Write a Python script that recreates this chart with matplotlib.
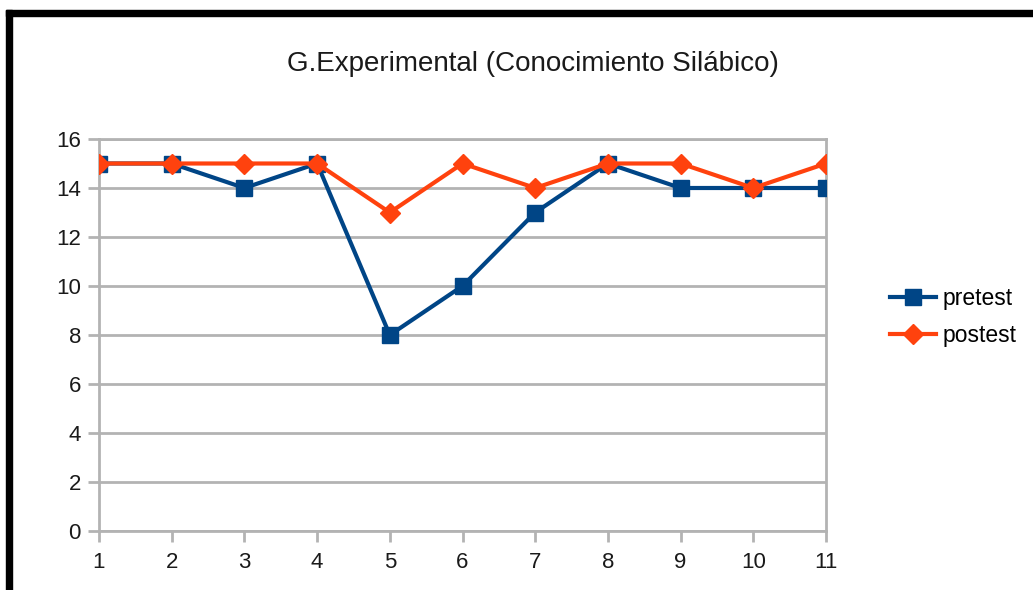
import matplotlib
matplotlib.use("Agg")
import matplotlib.pyplot as plt
from matplotlib.patches import Rectangle

plt.rcParams["font.family"] = ["Liberation Sans", "DejaVu Sans"]

# Data
students = [1, 2, 3, 4, 5, 6, 7, 8, 9, 10, 11]
pretest = [15, 15, 14, 15, 8, 10, 13, 15, 14, 14, 14]
postest = [15, 15, 15, 15, 13, 15, 14, 15, 15, 14, 15]
y_ticks = [0, 2, 4, 6, 8, 10, 12, 14, 16]

title = "G.Experimental (Conocimiento Silábico)"
blue = "#004586"
orange = "#ff420e"
grid_color = "#b3b3b3"

fig = plt.figure(figsize=(10.33, 5.9), dpi=100)
ax = fig.add_axes([99 / 1033, 1 - 531 / 590, (826 - 99) / 1033, (531 - 139) / 590])

ax.plot(students, pretest, color=blue, lw=3, marker="s", markersize=12, label="pretest", zorder=3)
ax.plot(students, postest, color=orange, lw=3, marker="D", markersize=10, label="postest", zorder=4)

ax.set_xlim(1, 11)
ax.set_ylim(0, 16)
ax.set_xticks(students)
ax.set_yticks(y_ticks)
ax.grid(axis="y", color=grid_color, lw=2)
ax.set_axisbelow(True)
for s in ax.spines.values():
    s.set_color(grid_color)
    s.set_linewidth(2)
ax.tick_params(axis="both", colors=grid_color, labelcolor="#1a1a1a", labelsize=16,
               length=8, width=2, direction="out")
ax.tick_params(axis="x", pad=7)
ax.tick_params(axis="y", pad=5)

fig.text(0.5155, 1 - 64 / 590, title, ha="center", va="center", fontsize=20, color="#1a1a1a")

ax.legend(loc="center left", bbox_to_anchor=(1.06, 0.545), frameon=False, fontsize=16.5,
          handlelength=2.0, handletextpad=0.3, labelspacing=0.6)

# black frame around the chart (left and top edges)
fig.patches.append(Rectangle((6 / 1033, 0), 6 / 1033, 1 - 10 / 590, transform=fig.transFigure,
                             color="black", zorder=10))
fig.patches.append(Rectangle((6 / 1033, 1 - 16 / 590), 1, 6 / 590, transform=fig.transFigure,
                             color="black", zorder=10))

fig.savefig("out.png", dpi=100)
